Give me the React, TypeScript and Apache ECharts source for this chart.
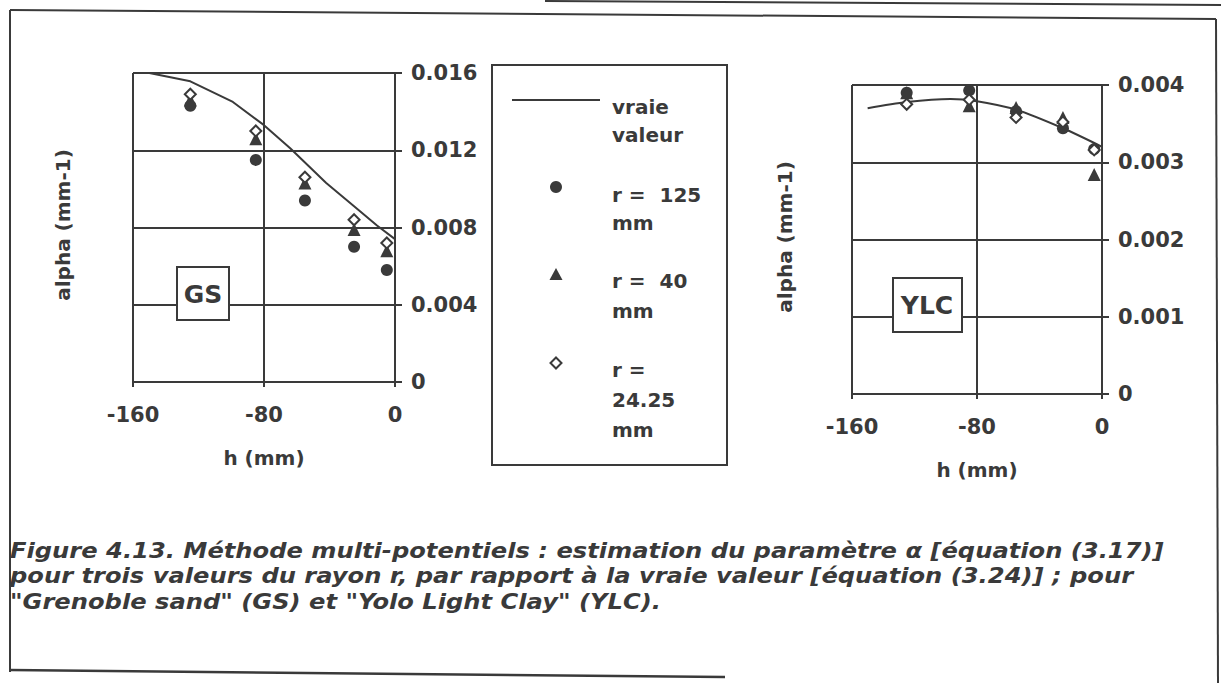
import React, { useEffect, useRef } from "react";
import * as echarts from "echarts";

// ---- Data ----
const hPoints = [-125, -85, -55, -25, -5];

// Grenoble sand (GS)
const gsR125 = [0.0143, 0.0115, 0.0094, 0.007, 0.0058];
const gsR40 = [0.0146, 0.0126, 0.0103, 0.0079, 0.0068];
const gsR2425 = [0.0149, 0.013, 0.0106, 0.0084, 0.0072];
const hTrueGS = [-150, -125, -99, -80, -64, -42, -25, -11, 0];
const gsTrue = [0.016, 0.01557, 0.0145, 0.0133, 0.0121, 0.0103, 0.0091, 0.0081, 0.0074];

// Yolo Light Clay (YLC)
const ylcR125 = [0.0039, 0.00393, 0.00366, 0.00344, 0.00317];
const ylcR40 = [0.0039, 0.00373, 0.00371, 0.00358, 0.00284];
const ylcR2425 = [0.00375, 0.00381, 0.00358, 0.00352, 0.00316];
const hTrueYLC = [-150, -125, -97, -80, -55, -25, 0];
const ylcTrue = [0.0037, 0.00378, 0.00382, 0.00379, 0.00368, 0.00344, 0.0032];

const xTicks = { min: -160, max: 0, interval: 80 };
const gsTicks = { min: 0, max: 0.016, interval: 0.004 };
const ylcTicks = { min: 0, max: 0.004, interval: 0.001 };

const legendLines = [
  { text: "vraie", y: 107 },
  { text: "valeur", y: 135 },
  { text: "r =  125", y: 195 },
  { text: "mm", y: 223 },
  { text: "r =  40", y: 281 },
  { text: "mm", y: 311 },
  { text: "r =", y: 370 },
  { text: "24.25", y: 400 },
  { text: "mm", y: 430 },
];

const captionLines = [
  "Figure 4.13. Méthode multi-potentiels : estimation du paramètre α [équation (3.17)]",
  "pour trois valeurs du rayon r, par rapport à la vraie valeur [équation (3.24)] ; pour",
  '"Grenoble sand" (GS) et "Yolo Light Clay" (YLC).',
];

const INK = "#3a3a3a";
const FONT = "DejaVu Sans";

const zip = (xs: number[], ys: number[]) => xs.map((x, i) => [x, ys[i]]);

export default function App() {
  const ref = useRef<HTMLDivElement>(null);

  useEffect(() => {
    document.body.style.margin = "0";
    if (!ref.current) return;
    const chart = echarts.init(ref.current, undefined, { renderer: "svg" });

    const axisLabel = (margin: number) => ({
      color: INK,
      fontFamily: FONT,
      fontWeight: "bold" as const,
      fontSize: 21,
      margin,
    });
    const lineStyle = { color: INK, width: 2 };

    const mkX = (gridIndex: number) => ({
      type: "value",
      gridIndex,
      ...xTicks,
      axisLine: { show: true, onZero: false, lineStyle },
      axisTick: { show: true, length: 5, lineStyle },
      axisLabel: axisLabel(22),
      splitLine: { show: true, lineStyle },
      name: "h (mm)",
      nameLocation: "middle",
      nameGap: 66,
      nameTextStyle: { color: INK, fontFamily: FONT, fontWeight: "bold", fontSize: 20 },
    });
    const mkY = (gridIndex: number, ticks: any) => ({
      type: "value",
      gridIndex,
      position: "right",
      ...ticks,
      axisLine: { show: true, lineStyle },
      axisTick: { show: true, length: 7, lineStyle },
      axisLabel: axisLabel(16),
      splitLine: { show: true, lineStyle },
    });

    const scatter = (idx: number, name: string, data: number[], kind: string) => {
      const base: any = {
        type: "scatter",
        name,
        xAxisIndex: idx,
        yAxisIndex: idx,
        data: zip(hPoints, data),
      };
      if (kind === "circle") {
        return { ...base, symbol: "circle", symbolSize: 12, z: 3, itemStyle: { color: INK, opacity: 1 } };
      }
      if (kind === "triangle") {
        return { ...base, symbol: "triangle", symbolSize: 13, z: 4, itemStyle: { color: INK, opacity: 1 } };
      }
      return {
        ...base,
        symbol: "diamond",
        symbolSize: 11,
        z: 5,
        itemStyle: { color: "#fff", borderColor: INK, borderWidth: 2, opacity: 1 },
      };
    };

    const textStyle = (text: string, size: number, align = "left", extra: any = {}) => ({
      text,
      fill: INK,
      fontFamily: FONT,
      fontWeight: "bold",
      fontSize: size,
      textAlign: align,
      textVerticalAlign: "middle",
      ...extra,
    });

    const line = (x1: number, y1: number, x2: number, y2: number, w = 2) => ({
      type: "line",
      shape: { x1, y1, x2, y2 },
      style: { stroke: INK, lineWidth: w },
    });

    const graphic: any[] = [
      // outer frame (scanned page)
      line(10, 10, 1216, 19),
      line(10, 10, 10, 672),
      line(1216, 19, 1218, 683),
      line(10, 670, 725, 677, 2.5),
      line(545, 1, 1221, 5),
      // y axis names
      { type: "text", x: 63, y: 225, rotation: Math.PI / 2, style: textStyle("alpha (mm-1)", 20, "center") },
      { type: "text", x: 785, y: 237, rotation: Math.PI / 2, style: textStyle("alpha (mm-1)", 20, "center") },
      // GS / YLC boxes
      { type: "rect", z: 50, shape: { x: 177, y: 267, width: 52, height: 53 }, style: { fill: "#fff", stroke: INK, lineWidth: 2 } },
      { type: "text", z: 51, x: 203, y: 294, style: textStyle("GS", 25, "center") },
      { type: "rect", z: 50, shape: { x: 893, y: 278, width: 69, height: 54 }, style: { fill: "#fff", stroke: INK, lineWidth: 2 } },
      { type: "text", z: 51, x: 927, y: 305, style: textStyle("YLC", 25, "center") },
      // legend box
      { type: "rect", shape: { x: 492, y: 65, width: 235, height: 400 }, style: { fill: "#fff", stroke: INK, lineWidth: 2 } },
      line(512, 100, 600, 100),
      { type: "circle", shape: { cx: 556, cy: 187, r: 6 }, style: { fill: INK } },
      { type: "polygon", shape: { points: [[556, 268], [549.5, 280], [562.5, 280]] }, style: { fill: INK } },
      {
        type: "polygon",
        shape: { points: [[556, 357.5], [561.5, 363], [556, 368.5], [550.5, 363]] },
        style: { fill: "#fff", stroke: INK, lineWidth: 2 },
      },
      ...legendLines.map((l) => ({ type: "text", x: 612, y: l.y, style: textStyle(l.text, 20) })),
      // caption lines
      ...captionLines.map((t, i) => ({
        type: "text",
        x: 10,
        y: 550 + i * 25.5,
        scaleX: 1.12,
        style: textStyle(t, 21.6, "left", { fontStyle: "italic" }),
      })),
    ];

    chart.setOption({
      animation: false,
      backgroundColor: "#fff",
      grid: [
        { left: 133, top: 73, width: 262, height: 309 },
        { left: 852, top: 85, width: 250, height: 309 },
      ],
      xAxis: [mkX(0), mkX(1)],
      yAxis: [mkY(0, gsTicks), mkY(1, ylcTicks)],
      series: [
        {
          type: "line",
          name: "vraie valeur",
          xAxisIndex: 0,
          yAxisIndex: 0,
          data: zip(hTrueGS, gsTrue),
          showSymbol: false,
          lineStyle: { color: INK, width: 2 },
          z: 2,
        },
        scatter(0, "r = 125 mm", gsR125, "circle"),
        scatter(0, "r = 40 mm", gsR40, "triangle"),
        scatter(0, "r = 24.25 mm", gsR2425, "diamond"),
        {
          type: "line",
          name: "vraie valeur",
          xAxisIndex: 1,
          yAxisIndex: 1,
          data: zip(hTrueYLC, ylcTrue),
          showSymbol: false,
          smooth: 0.3,
          lineStyle: { color: INK, width: 2 },
          z: 2,
        },
        scatter(1, "r = 125 mm", ylcR125, "circle"),
        scatter(1, "r = 40 mm", ylcR40, "triangle"),
        scatter(1, "r = 24.25 mm", ylcR2425, "diamond"),
      ],
      graphic,
    });

    return () => chart.dispose();
  }, []);

  return <div ref={ref} style={{ width: 1221, height: 683 }} />;
}
